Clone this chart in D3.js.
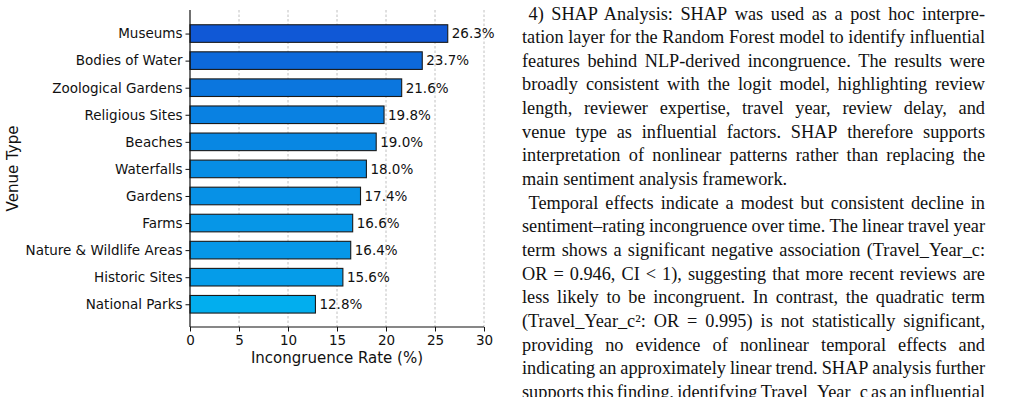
<!DOCTYPE html>
<html>
<head>
<meta charset="utf-8">
<script src="https://cdn.jsdelivr.net/npm/d3@7"></script>
<style>
  body { margin: 0; background: #fff; }
  svg { display: block; }
</style>
</head>
<body>
<script>
var venues = ["Museums", "Bodies of Water", "Zoological Gardens", "Religious Sites", "Beaches",
              "Waterfalls", "Gardens", "Farms", "Nature & Wildlife Areas", "Historic Sites", "National Parks"];
var rates = [26.3, 23.7, 21.6, 19.8, 19.0, 18.0, 17.4, 16.6, 16.4, 15.6, 12.8];
var xTicks = [0, 5, 10, 15, 20, 25, 30];

var paraLines = [
  ["4) SHAP Analysis: SHAP was used as a post hoc interpre-",
   "tation layer for the Random Forest model to identify influential",
   "features behind NLP-derived incongruence. The results were",
   "broadly consistent with the logit model, highlighting review",
   "length, reviewer expertise, travel year, review delay, and",
   "venue type as influential factors. SHAP therefore supports",
   "interpretation of nonlinear patterns rather than replacing the",
   "main sentiment analysis framework."],
  ["Temporal effects indicate a modest but consistent decline in",
   "sentiment\u2013rating incongruence over time. The linear travel year",
   "term shows a significant negative association (Travel_Year_c:",
   "OR = 0.946, CI < 1), suggesting that more recent reviews are",
   "less likely to be incongruent. In contrast, the quadratic term",
   "(Travel_Year_c\u00b2: OR = 0.995) is not statistically significant,",
   "providing no evidence of nonlinear temporal effects and",
   "indicating an approximately linear trend. SHAP analysis further",
   "supports this finding, identifying Travel_Year_c as an influential"]
];

var W = 1036, H = 397;
var svg = d3.select("body").append("svg").attr("width", W).attr("height", H);
svg.append("rect").attr("width", W).attr("height", H).attr("fill", "#fff");

// chart area
var plot = { left: 190, right: 484, top: 10, bottom: 327 };
var x = d3.scaleLinear().domain([0, 30]).range([plot.left, plot.right]),
    y = d3.scaleLinear().domain([-0.87, venues.length - 1 + 0.84]).range([plot.top, plot.bottom]),
    barH = (y(1) - y(0)) * 0.65,
    color = d3.scaleLinear().domain([d3.min(rates), d3.max(rates)])
        .range(["#02aeee", "#1058d6"]).interpolate(d3.interpolateRgb);

var g = svg.append("g").style("font-family", "'DejaVu Sans', sans-serif");

// dashed vertical grid
g.selectAll(".grid").data(xTicks.slice(1)).enter().append("line")
    .attr("x1", d => x(d)).attr("x2", d => x(d))
    .attr("y1", plot.top).attr("y2", plot.bottom)
    .attr("stroke", "#b0b0b0").attr("stroke-width", 0.8)
    .attr("stroke-dasharray", "2.5,2");

g.selectAll(".bar").data(rates).enter().append("rect")
    .attr("x", x(0))
    .attr("y", (d, i) => y(i) - barH / 2)
    .attr("width", d => x(d) - x(0))
    .attr("height", barH)
    .attr("fill", d => color(d))
    .attr("stroke", "#1a1a1a").attr("stroke-width", 1.1);

g.selectAll(".val").data(rates).enter().append("text")
    .attr("x", d => x(d) + 4)
    .attr("y", (d, i) => y(i))
    .attr("dy", "0.36em")
    .style("font-size", "13.5px").attr("fill", "#111")
    .text(d => d.toFixed(1) + "%");

// axes
var yAxis = d3.axisLeft(d3.scaleOrdinal().domain(venues).range(venues.map((d, i) => y(i))))
    .tickSize(4.5).tickPadding(3);
var xAxis = d3.axisBottom(x).tickValues(xTicks).tickSize(4.5).tickPadding(3.5);

var ya = g.append("g").attr("transform", "translate(" + plot.left + ",0)").call(yAxis);
ya.select(".domain").attr("d", "M0," + plot.top + "V" + plot.bottom);
var xa = g.append("g").attr("transform", "translate(0," + plot.bottom + ")").call(xAxis);
xa.select(".domain").attr("d", "M" + plot.left + ",0H" + plot.right);

g.selectAll(".tick text").style("font-size", "13.5px").style("font-family", "'DejaVu Sans', sans-serif").attr("fill", "#111");
g.selectAll(".tick line").attr("stroke", "#111").attr("stroke-width", 1);
g.selectAll(".domain").attr("stroke", "#111").attr("stroke-width", 1.2);

g.append("text")
    .attr("x", (plot.left + plot.right) / 2).attr("y", 362.5)
    .attr("text-anchor", "middle")
    .style("font-size", "15px").attr("fill", "#111")
    .text("Incongruence Rate (%)");
g.append("text")
    .attr("transform", "translate(18," + (plot.top + plot.bottom) / 2 + ") rotate(-90)")
    .attr("text-anchor", "middle")
    .style("font-size", "15px").attr("fill", "#111")
    .text("Venue Type");

// body text, justified word by word
var col = { left: 522, right: 985, indent: 6.5, base: 19.5, lead: 23.65 };
var txt = svg.append("g").style("font-family", "'Liberation Serif', 'Times New Roman', serif")
    .style("font-size", "18.3px").attr("fill", "#111");
var lineNo = 0;
paraLines.forEach(function(lines, pi) {
  lines.forEach(function(line, li) {
    var words = line.split(" "),
        x0 = col.left + (li === 0 ? col.indent : 0),
        t = txt.append("text").attr("y", col.base + col.lead * lineNo),
        spans = words.map(w => t.append("tspan").text(w)),
        widths = spans.map(s => s.node().getComputedTextLength()),
        endOfPara = (li === lines.length - 1 && pi < paraLines.length - 1),
        gap = endOfPara ? 4.6 : (col.right - x0 - d3.sum(widths)) / (words.length - 1);
    var cx = x0;
    spans.forEach(function(s, i) { s.attr("x", cx); cx += widths[i] + gap; });
    lineNo++;
  });
});
</script>
</body>
</html>
